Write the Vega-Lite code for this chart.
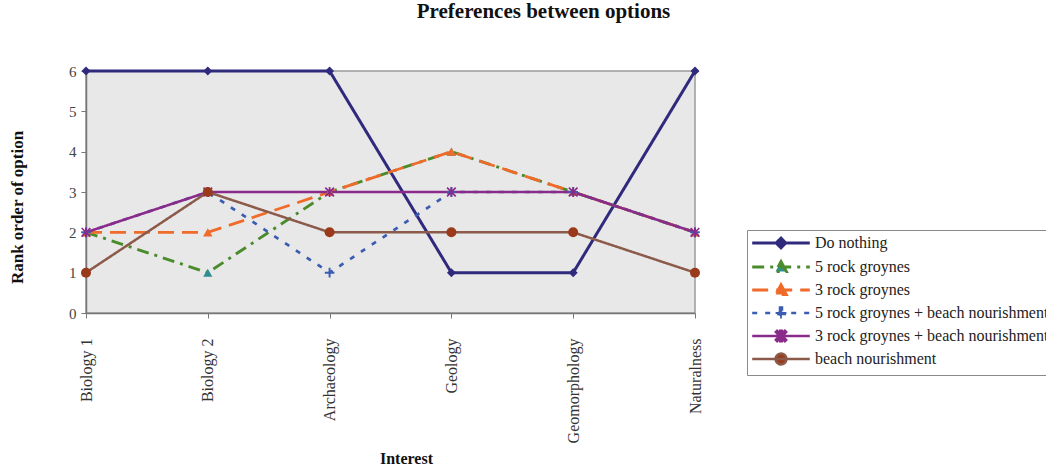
{
  "$schema": "https://vega.github.io/schema/vega-lite/v6.json",
  "autosize": {"type": "none"},
  "padding": {"left": 86, "top": 71, "right": 351, "bottom": 153},
  "width": 609,
  "height": 242,
  "background": "white",
  "config": {
    "font": "Liberation Serif",
    "view": {"fill": "#e8e8e8", "stroke": "#9a9a9a", "strokeWidth": 1.5}
  },
  "title": {
    "text": "Preferences between options",
    "font": "Liberation Serif",
    "fontSize": 21,
    "fontWeight": "bold",
    "color": "#111",
    "anchor": "middle",
    "dx": 153,
    "offset": 42
  },
  "data": {
    "values": [
      {"interest": "Biology 1", "series": "Do nothing", "rank": 6},
      {"interest": "Biology 2", "series": "Do nothing", "rank": 6},
      {"interest": "Archaeology", "series": "Do nothing", "rank": 6},
      {"interest": "Geology", "series": "Do nothing", "rank": 1},
      {"interest": "Geomorphology", "series": "Do nothing", "rank": 1},
      {"interest": "Naturalness", "series": "Do nothing", "rank": 6},
      {"interest": "Biology 1", "series": "5 rock groynes", "rank": 2},
      {"interest": "Biology 2", "series": "5 rock groynes", "rank": 1},
      {"interest": "Archaeology", "series": "5 rock groynes", "rank": 3},
      {"interest": "Geology", "series": "5 rock groynes", "rank": 4},
      {"interest": "Geomorphology", "series": "5 rock groynes", "rank": 3},
      {"interest": "Naturalness", "series": "5 rock groynes", "rank": 2},
      {"interest": "Biology 1", "series": "3 rock groynes", "rank": 2},
      {"interest": "Biology 2", "series": "3 rock groynes", "rank": 2},
      {"interest": "Archaeology", "series": "3 rock groynes", "rank": 3},
      {"interest": "Geology", "series": "3 rock groynes", "rank": 4},
      {"interest": "Geomorphology", "series": "3 rock groynes", "rank": 3},
      {"interest": "Naturalness", "series": "3 rock groynes", "rank": 2},
      {"interest": "Biology 1", "series": "5 rock groynes + beach nourishment", "rank": 2},
      {"interest": "Biology 2", "series": "5 rock groynes + beach nourishment", "rank": 3},
      {"interest": "Archaeology", "series": "5 rock groynes + beach nourishment", "rank": 1},
      {"interest": "Geology", "series": "5 rock groynes + beach nourishment", "rank": 3},
      {"interest": "Geomorphology", "series": "5 rock groynes + beach nourishment", "rank": 3},
      {"interest": "Naturalness", "series": "5 rock groynes + beach nourishment", "rank": 2},
      {"interest": "Biology 1", "series": "3 rock groynes + beach nourishment", "rank": 2},
      {"interest": "Biology 2", "series": "3 rock groynes + beach nourishment", "rank": 3},
      {"interest": "Archaeology", "series": "3 rock groynes + beach nourishment", "rank": 3},
      {"interest": "Geology", "series": "3 rock groynes + beach nourishment", "rank": 3},
      {"interest": "Geomorphology", "series": "3 rock groynes + beach nourishment", "rank": 3},
      {"interest": "Naturalness", "series": "3 rock groynes + beach nourishment", "rank": 2},
      {"interest": "Biology 1", "series": "beach nourishment", "rank": 1},
      {"interest": "Biology 2", "series": "beach nourishment", "rank": 3},
      {"interest": "Archaeology", "series": "beach nourishment", "rank": 2},
      {"interest": "Geology", "series": "beach nourishment", "rank": 2},
      {"interest": "Geomorphology", "series": "beach nourishment", "rank": 2},
      {"interest": "Naturalness", "series": "beach nourishment", "rank": 1}
    ]
  },
  "encoding": {
    "x": {
      "field": "interest",
      "type": "ordinal",
      "sort": ["Biology 1", "Biology 2", "Archaeology", "Geology", "Geomorphology", "Naturalness"],
      "scale": {"type": "point", "padding": 0},
      "axis": {
        "title": "Interest",
        "titleFont": "Liberation Serif",
        "titleFontSize": 16,
        "titleFontWeight": "bold",
        "titleColor": "#111",
        "titleX": 320,
        "titleY": 150,
        "titleBaseline": "alphabetic",
        "labelAngle": -90,
        "labelAlign": "right",
        "labelBaseline": "middle",
        "labelFont": "Liberation Serif",
        "labelFontSize": 16,
        "labelColor": "#333",
        "labelPadding": 20,
        "tickSize": 5,
        "tickColor": "#777",
        "domainColor": "#777",
        "domainWidth": 1.5,
        "grid": false
      }
    },
    "y": {
      "field": "rank",
      "type": "quantitative",
      "scale": {"domain": [0, 6], "nice": false, "zero": true},
      "axis": {
        "title": "Rank order of option",
        "titleFont": "Liberation Serif",
        "titleFontSize": 17,
        "titleFontWeight": "bold",
        "titleColor": "#111",
        "titleX": -69,
        "titleY": 136,
        "titleBaseline": "middle",
        "titleAngle": -90,
        "values": [0, 1, 2, 3, 4, 5, 6],
        "labelFont": "Liberation Serif",
        "labelFontSize": 15,
        "labelColor": "#444",
        "labelPadding": 5,
        "tickSize": 5,
        "tickColor": "#777",
        "domainColor": "#777",
        "domainWidth": 1.5,
        "grid": false
      }
    }
  },
  "resolve": {
    "scale": {"fill": "independent", "shape": "independent", "stroke": "independent", "strokeDash": "independent", "strokeWidth": "independent", "size": "independent"}
  },
  "layer": [
    {
      "mark": {"type": "line", "strokeCap": "butt"},
      "encoding": {
        "stroke": {
          "field": "series",
          "type": "nominal",
          "scale": {
            "domain": ["Do nothing", "5 rock groynes", "3 rock groynes", "5 rock groynes + beach nourishment", "3 rock groynes + beach nourishment", "beach nourishment"],
            "range": ["#302a7c", "#4a8c2c", "#f06a2a", "#3a5cb2", "#8a2a8a", "#8c5a4a"]
          },
          "legend": null
        },
        "strokeDash": {
          "field": "series",
          "type": "nominal",
          "scale": {
            "domain": ["Do nothing", "5 rock groynes", "3 rock groynes", "5 rock groynes + beach nourishment", "3 rock groynes + beach nourishment", "beach nourishment"],
            "range": [[1, 0], [12, 6, 3, 6], [16, 8], [5, 8], [1, 0], [1, 0]]
          },
          "legend": null
        },
        "strokeWidth": {
          "field": "series",
          "type": "nominal",
          "scale": {
            "domain": ["Do nothing", "5 rock groynes", "3 rock groynes", "5 rock groynes + beach nourishment", "3 rock groynes + beach nourishment", "beach nourishment"],
            "range": [3, 2.5, 3, 2.5, 1.5, 1.5]
          },
          "legend": null
        }
      }
    },
    {
      "mark": {"type": "point", "filled": true, "opacity": 1},
      "encoding": {
        "fill": {
          "field": "series",
          "type": "nominal",
          "scale": {
            "domain": ["Do nothing", "5 rock groynes", "3 rock groynes", "5 rock groynes + beach nourishment", "3 rock groynes + beach nourishment", "beach nourishment"],
            "range": ["#302a7c", "#2e8f90", "#f06a2a", "#3a5cb2", "#8a2a8a", "#9a3a1a"]
          },
          "legend": null
        },
        "shape": {
          "field": "series",
          "type": "nominal",
          "scale": {
            "domain": ["Do nothing", "5 rock groynes", "3 rock groynes", "5 rock groynes + beach nourishment", "3 rock groynes + beach nourishment", "beach nourishment"],
            "range": ["diamond", "triangle-up", "triangle-up", "M-0.2,-1L0.2,-1L0.2,-0.2L1,-0.2L1,0.2L0.2,0.2L0.2,1L-0.2,1L-0.2,0.2L-1,0.2L-1,-0.2L-0.2,-0.2Z", "M-0.17,-1L0.17,-1L0.17,1L-0.17,1ZM-1,-0.76L-0.76,-1L1,0.76L0.76,1ZM1,-0.76L-0.76,1L-1,0.76L0.76,-1Z", "circle"]
          },
          "legend": null
        },
        "size": {
          "field": "series",
          "type": "nominal",
          "scale": {
            "domain": ["Do nothing", "5 rock groynes", "3 rock groynes", "5 rock groynes + beach nourishment", "3 rock groynes + beach nourishment", "beach nourishment"],
            "range": [80, 100, 100, 110, 130, 130]
          },
          "legend": null
        }
      }
    },
    {
      "transform": [{"filter": "false"}],
      "mark": {"type": "point", "filled": true, "opacity": 1, "size": 144},
      "encoding": {
        "shape": {
          "field": "series",
          "type": "nominal",
          "scale": {
            "domain": ["Do nothing", "5 rock groynes", "3 rock groynes", "5 rock groynes + beach nourishment", "3 rock groynes + beach nourishment", "beach nourishment"],
            "range": [
              "M-4.8,0L4.8,0M0,-0.8L0.8,0L0,0.8L-0.8,0Z",
              "M-4.8,0L4.8,0M0,-0.9L0.9,0.75L-0.9,0.75Z",
              "M-4.8,0L4.8,0M0,-0.9L0.9,0.75L-0.9,0.75Z",
              "M-4.8,0L4.8,0M-0.15,-0.9L0.15,-0.9L0.15,-0.15L0.9,-0.15L0.9,0.15L0.15,0.15L0.15,0.9L-0.15,0.9L-0.15,0.15L-0.9,0.15L-0.9,-0.15L-0.15,-0.15Z",
              "M-4.8,0L4.8,0M-0.13,-0.85L0.13,-0.85L0.13,0.85L-0.13,0.85ZM-0.85,-0.65L-0.65,-0.85L0.85,0.65L0.65,0.85ZM0.85,-0.65L-0.65,0.85L-0.85,0.65L0.65,-0.85Z",
              "M-4.8,0L4.8,0M-0.9,0A0.9,0.9 0 1,0 0.9,0A0.9,0.9 0 1,0 -0.9,0Z"
            ]
          },
          "legend": {
            "title": null,
            "orient": "none",
            "legendX": 661,
            "legendY": 159,
            "direction": "vertical",
            "fillColor": "white",
            "strokeColor": "#8a8a8a",
            "padding": 5,
            "symbolSize": 144,
            "symbolOffset": 21,
            "labelOffset": 26,
            "rowPadding": 1,
            "labelFont": "Liberation Serif",
            "labelFontSize": 16,
            "labelColor": "#222",
            "labelLimit": 400
          }
        },
        "fill": {
          "field": "series",
          "type": "nominal",
          "scale": {
            "domain": ["Do nothing", "5 rock groynes", "3 rock groynes", "5 rock groynes + beach nourishment", "3 rock groynes + beach nourishment", "beach nourishment"],
            "range": ["#302a7c", "#2e8f90", "#f06a2a", "#3a5cb2", "#8a2a8a", "#9a3a1a"]
          }
        },
        "stroke": {
          "field": "series",
          "type": "nominal",
          "scale": {
            "domain": ["Do nothing", "5 rock groynes", "3 rock groynes", "5 rock groynes + beach nourishment", "3 rock groynes + beach nourishment", "beach nourishment"],
            "range": ["#302a7c", "#4a8c2c", "#f06a2a", "#3a5cb2", "#8a2a8a", "#8c5a4a"]
          }
        },
        "strokeDash": {
          "field": "series",
          "type": "nominal",
          "scale": {
            "domain": ["Do nothing", "5 rock groynes", "3 rock groynes", "5 rock groynes + beach nourishment", "3 rock groynes + beach nourishment", "beach nourishment"],
            "range": [[1, 0], [12, 6, 3, 6], [16, 8], [5, 8], [1, 0], [1, 0]]
          }
        },
        "strokeWidth": {
          "field": "series",
          "type": "nominal",
          "scale": {
            "domain": ["Do nothing", "5 rock groynes", "3 rock groynes", "5 rock groynes + beach nourishment", "3 rock groynes + beach nourishment", "beach nourishment"],
            "range": [3, 2.5, 3, 2.5, 1.5, 1.5]
          }
        }
      }
    }
  ]
}
